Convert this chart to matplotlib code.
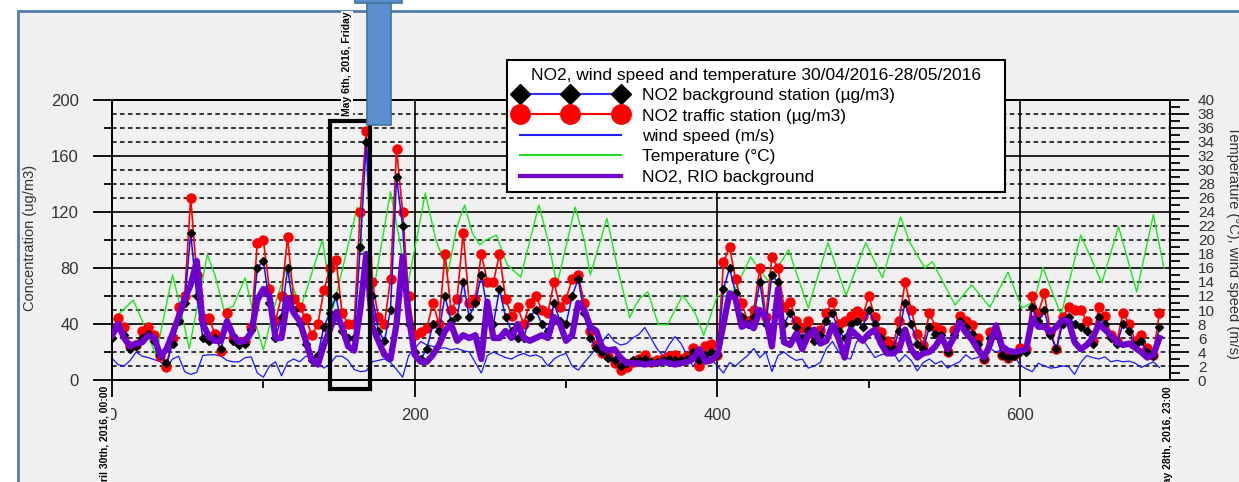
import numpy as np
import matplotlib.pyplot as plt
from matplotlib.lines import Line2D
from matplotlib.patches import Rectangle

plt.rcParams['font.family'] = ['Liberation Sans', 'DejaVu Sans']

# hours since April 30th 2016 00:00, one reading every 4 hours
hours = np.arange(0, 696, 4)

# NO2, RIO background (ug/m3)
rio_no2 = [32, 40, 30, 24, 26, 27, 32, 30, 17, 22, 33, 45, 58, 68, 85, 40, 31, 28, 28, 42, 32, 27,
           28, 34, 57, 65, 60, 30, 30, 58, 48, 42, 28, 14, 11, 25, 36, 48, 38, 24, 21, 50, 90, 38,
           28, 18, 15, 40, 88, 45, 18, 13, 13, 18, 25, 35, 40, 28, 32, 30, 32, 15, 56, 30, 30, 35,
           30, 40, 30, 28, 30, 32, 30, 45, 40, 28, 32, 55, 50, 38, 35, 23, 21, 22, 16, 12, 12,
           12, 11, 12, 12, 13, 12, 11, 12, 13, 15, 22, 13, 14, 18, 40, 62, 58, 38, 40, 37, 50, 45,
           24, 65, 27, 25, 33, 22, 32, 36, 26, 28, 39, 30, 16, 36, 32, 28, 33, 36, 26, 19, 19, 22,
           36, 22, 16, 19, 20, 24, 31, 22, 30, 41, 34, 29, 22, 16, 25, 39, 24, 21, 20, 21, 22, 44,
           38, 38, 34, 38, 43, 42, 27, 22, 25, 30, 40, 36, 32, 27, 25, 26, 23, 20, 16, 18, 30]

# NO2 traffic station (ug/m3)
traffic_no2 = [36, 44, 38, 24, 25, 35, 38, 32, 17, 9, 30, 52, 60, 130, 75, 44, 44, 33, 21, 48, 30, 27,
               28, 38, 98, 100, 65, 42, 60, 102, 58, 52, 44, 32, 40, 64, 80, 86, 48, 40, 40, 120, 178, 70,
               45, 40, 72, 165, 120, 60, 32, 34, 37, 55, 40, 90, 50, 58, 105, 55, 58, 90, 70, 70, 90,
               58, 46, 52, 40, 55, 60, 50, 48, 70, 52, 58, 72, 75, 55, 35, 25, 19, 17, 12, 7, 9, 13,
               15, 18, 13, 14, 15, 17, 18, 15, 17, 23, 10, 24, 26, 18, 84, 95, 72, 55, 42, 50, 80, 45,
               88, 80, 52, 56, 42, 37, 42, 32, 36, 48, 56, 40, 42, 46, 49, 46, 60, 45, 34, 28, 25, 42,
               70, 50, 33, 25, 48, 38, 36, 20, 36, 46, 42, 39, 30, 15, 34, 33, 18, 16, 18, 23, 22, 60,
               48, 62, 34, 22, 45, 52, 50, 50, 42, 28, 52, 46, 32, 28, 48, 40, 28, 32, 23, 18, 48]

# NO2 background station (ug/m3)
background_no2 = [30, 38, 32, 22, 24, 30, 33, 28, 18, 12, 26, 42, 55, 105, 60, 30, 28, 30, 22, 40, 28, 25,
                  26, 36, 80, 85, 55, 30, 45, 80, 50, 40, 26, 14, 18, 38, 48, 60, 35, 30, 30, 95, 170, 60,
                  35, 28, 50, 145, 110, 40, 20, 15, 22, 40, 35, 60, 42, 45, 70, 45, 55, 75, 50, 40, 65,
                  45, 35, 30, 30, 45, 50, 40, 35, 55, 42, 40, 60, 72, 48, 30, 23, 20, 16, 14, 10, 12, 14,
                  14, 15, 13, 13, 14, 15, 14, 14, 15, 20, 14, 18, 20, 18, 65, 80, 62, 45, 40, 45, 70, 40,
                  75, 70, 40, 48, 38, 30, 36, 28, 32, 42, 48, 35, 30, 40, 42, 38, 50, 40, 30, 22, 22, 35,
                  55, 40, 26, 22, 38, 33, 32, 20, 32, 42, 38, 33, 26, 15, 30, 32, 18, 16, 17, 20, 20, 52,
                  42, 50, 32, 22, 40, 45, 40, 38, 35, 26, 45, 40, 30, 26, 40, 35, 25, 28, 20, 17, 38]

# wind speed (m/s)
wind_speed = [3.1, 2.2, 2.0, 2.8, 4.0, 3.4, 3.2, 2.9, 2.6, 1.8, 3.0, 3.4, 1.2, 0.8, 1.1, 3.5, 3.6, 3.6,
              3.4, 2.8, 2.6, 2.6, 3.2, 3.3, 1.0, 0.4, 2.0, 2.6, 0.6, 2.5, 3.0, 2.6, 3.4, 3.2, 2.4, 1.7,
              2.3, 3.4, 3.4, 2.8, 1.5, 1.2, 1.3, 2.6,
              2.8, 3.0, 2.5, 1.5, 0.4, 3.5, 4.5, 5.5, 5.0, 4.8, 4.5, 4.6, 4.3, 4.5, 4.2, 4.0, 2.5, 1.0,
              3.5, 4.0, 3.6, 3.2, 3.0, 3.5, 3.8, 3.4, 3.6, 3.2, 2.0, 3.0, 3.5, 3.8, 2.0, 1.4, 2.5, 3.5,
              4.5, 5.5, 6.6, 5.5, 5.0, 5.2, 6.0,
              6.5, 7.5, 6.0, 4.5, 3.4, 5.0, 6.2, 5.2, 3.5, 1.9, 3.5, 3.8, 3.0, 2.0, 1.0, 2.5, 2.0, 2.8,
              3.5, 4.5, 3.2, 4.0, 1.2, 3.5, 4.0, 3.3, 2.8, 3.0, 1.7, 2.0, 2.5, 4.5, 5.5, 4.0, 3.2, 3.0,
              5.5, 5.8, 4.5, 3.2, 3.6, 3.8, 4.0, 2.6,
              3.6, 2.8, 1.3, 2.5, 3.0, 2.3, 2.7, 1.7, 2.2, 2.6, 3.6, 3.0, 3.2, 4.0, 4.5, 4.0, 4.3, 4.4,
              3.5, 2.1, 1.6, 1.2, 2.4, 2.0, 1.7, 1.8, 2.0, 1.9, 0.8, 2.5, 3.5, 3.2, 3.0, 3.3, 2.6, 2.8,
              2.6, 2.7, 2.4, 1.8, 2.2, 2.6, 1.8]

# temperature (deg C), read at its turning points
temp_hours = [0, 14, 22, 29, 40, 44, 51, 63, 68, 74, 80, 88, 95, 100, 108, 116, 120, 125, 139, 146,
              162, 170, 173, 184, 190, 195, 207, 214, 222, 228, 233, 238, 243, 247, 254, 261, 270,
              282, 288, 294, 306, 312, 316, 327, 334, 342, 346, 349, 354, 361, 367, 377, 385, 391,
              400, 406, 412, 422, 427, 434, 447, 460, 473, 485, 498, 509, 521, 527, 537, 542, 557,
              568, 580, 592, 601, 609, 615, 627, 640, 654, 665, 677, 688, 695]
temperature = [8.5, 11.4, 7.5, 3.5, 15.0, 11.5, 4.5, 17.9, 15.0, 10.0, 10.5, 14.6, 8.0, 4.3, 11.0, 16.5,
               13.0, 10.5, 20.0, 10.2, 24.7, 11.5, 13.0, 26.9, 20.0, 13.1, 26.7, 20.0, 15.4, 22.0, 25.0,
               21.0, 19.3, 20.0, 20.7, 16.5, 14.7, 25.0, 20.0, 13.6, 24.7, 20.0, 15.0, 23.1, 16.0, 8.9,
               10.7, 11.7, 12.6, 7.9, 7.9, 12.1, 9.7, 6.4, 12.1, 12.0, 13.1, 17.6, 16.0, 14.0, 18.6,
               10.3, 19.6, 12.1, 19.6, 14.6, 23.3, 19.7, 16.0, 16.9, 10.7, 13.6, 10.4, 15.4, 10.3, 11.1,
               16.1, 9.3, 20.7, 13.9, 21.9, 12.6, 23.6, 16.0]

x_ticks = [0, 200, 400, 600]
x_minor = [100, 300, 500]
highlight = (143.8, 170.2, -6.4, 185)  # May 6th box: hours and ug/m3

title = 'NO2, wind speed and temperature 30/04/2016-28/05/2016'
labels = ['NO2 background station (\u00b5g/m3)', 'NO2 traffic station (\u00b5g/m3)',
          'wind speed (m/s)', 'Temperature (\u00b0C)', 'NO2, RIO background']

W, H = 1239, 482
fig = plt.figure(figsize=(W / 100, H / 100), dpi=100)
fig.patch.set_facecolor('white')
# slide background frame
fig.add_artist(Rectangle((18 / W, -0.1), 1.2, 1 - 11 / H + 0.1, transform=fig.transFigure,
                         facecolor='#f0f0f0', edgecolor='#4f7cb0', lw=2, zorder=-5))

ax = fig.add_axes([112 / W, 102 / H, 1058 / W, 280 / H])
ax2 = ax.twinx()
ax.set_zorder(3)
ax2.set_zorder(2)
ax.patch.set_visible(False)
ax2.patch.set_visible(False)

ax.set_xlim(0, 699)
ax.set_ylim(0, 200)
ax2.set_ylim(0, 40)

# grid on the lower axes
for v in range(2, 40, 2):
    if v % 8 == 0:
        ax2.axhline(v, color='black', lw=1.2, zorder=1)
    else:
        ax2.axhline(v, color='black', lw=1.1, ls=(0, (3, 2.2)), zorder=1)
for v in x_ticks[1:]:
    ax2.axvline(v, color='black', lw=1.2, zorder=1)

ax2.plot(temp_hours, temperature, color='#1ee61e', lw=1, zorder=2)
ax2.plot(hours, wind_speed, color='#1a1aff', lw=0.9, zorder=2)

ax.plot(hours, traffic_no2, color='red', lw=1.2, marker='o', ms=6.5, mec='red', mfc='red', zorder=2)
ax.plot(hours, background_no2, color='#1010ff', lw=1.1, marker='D', ms=3.8,
        mfc='black', mec='black', zorder=3)
ax.plot(hours, rio_no2, color='#7000cc', lw=4.5, solid_joinstyle='round', zorder=4)

ax.add_patch(Rectangle((highlight[0], highlight[2]), highlight[1] - highlight[0],
                       highlight[3] - highlight[2], fill=False, lw=3, edgecolor='black',
                       clip_on=False, zorder=6))

ax.set_xticks(x_ticks)
ax.set_xticks(x_minor, minor=True)
ax.set_yticks(range(0, 201, 40))
ax.set_yticks(range(0, 201, 20), minor=True)
ax2.set_yticks(range(0, 41, 2))
ax2.set_yticks(range(0, 41, 1), minor=True)

ax.tick_params(axis='x', which='major', direction='out', length=12, width=1.3, pad=8,
               labelsize=12, labelcolor='#333333')
ax.tick_params(axis='x', which='minor', direction='out', length=6, width=1.3)
ax.tick_params(axis='y', which='major', direction='out', length=14, width=1.3, pad=10,
               labelsize=12, labelcolor='#333333')
ax.tick_params(axis='y', which='minor', direction='out', length=6, width=1.3)
ax2.tick_params(axis='y', which='major', direction='out', length=14, width=1.3, pad=6,
                labelsize=11, labelcolor='#333333')
ax2.tick_params(axis='y', which='minor', direction='out', length=7, width=1.3)
for a in (ax, ax2):
    for s in a.spines.values():
        s.set_linewidth(1.3)
        s.set_color('black')

fig.text(30 / W, 1 - 238 / H, 'Concentration (ug/m3)', rotation=90, fontsize=10.5,
         ha='center', va='center', color='#333333')
fig.text(1233 / W, 1 - 242 / H, 'Temperature (\u00b0C), wind speed (m/s)', rotation=270,
         fontsize=10.5, ha='center', va='center', color='#333333')

date_box = dict(facecolor='#f8f8f8', edgecolor='none', pad=0.5)
fig.text(347 / W, 1 - 116 / H, 'May 6th, 2016, Friday', rotation=90, fontsize=7.5,
         fontweight='bold', ha='center', va='bottom', bbox=date_box, zorder=20)
fig.text(105 / W, 1 - 386 / H, 'April 30th, 2016, 00:00', rotation=90, fontsize=7.5,
         fontweight='bold', ha='center', va='top', bbox=date_box, zorder=20)
fig.text(1168 / W, 1 - 386 / H, 'May 28th, 2016, 23:00', rotation=90, fontsize=7.5,
         fontweight='bold', ha='center', va='top', bbox=date_box, zorder=20)

# callout shape at the top
fig.add_artist(Rectangle((367 / W, 1 - 125 / H), 24 / W, 125 / H + 0.01, transform=fig.transFigure,
                         facecolor='#5b8fd0', edgecolor='#41719c', lw=1.2, zorder=21))
fig.add_artist(Rectangle((355 / W, 1 - 3 / H), 47 / W, 3 / H + 0.01, transform=fig.transFigure,
                         facecolor='#5b8fd0', edgecolor='#41719c', lw=1.2, zorder=21))

handles = [
    Line2D([], [], color='#3030ff', lw=1.5, marker='D', ms=10, mfc='black', mec='black'),
    Line2D([], [], color='red', lw=1.5, marker='o', ms=14, mfc='red', mec='red'),
    Line2D([], [], color='#2020ff', lw=1.5),
    Line2D([], [], color='#22dd22', lw=1.5),
    Line2D([], [], color='#7000cc', lw=3),
]
leg = ax.legend(handles, labels, title=title, loc='upper left',
                bbox_to_anchor=(507 / W, 1 - 60 / H, 498 / W, 0), bbox_transform=fig.transFigure,
                mode='expand', borderaxespad=0, numpoints=3, handlelength=6.4, handletextpad=0.9,
                borderpad=0.45, labelspacing=0.3, fontsize=12.5, title_fontsize=12.5,
                fancybox=False, edgecolor='black', framealpha=1, facecolor='white')
leg.get_frame().set_linewidth(1.5)
leg.set_zorder(10)

fig.savefig('out.png', dpi=100)
